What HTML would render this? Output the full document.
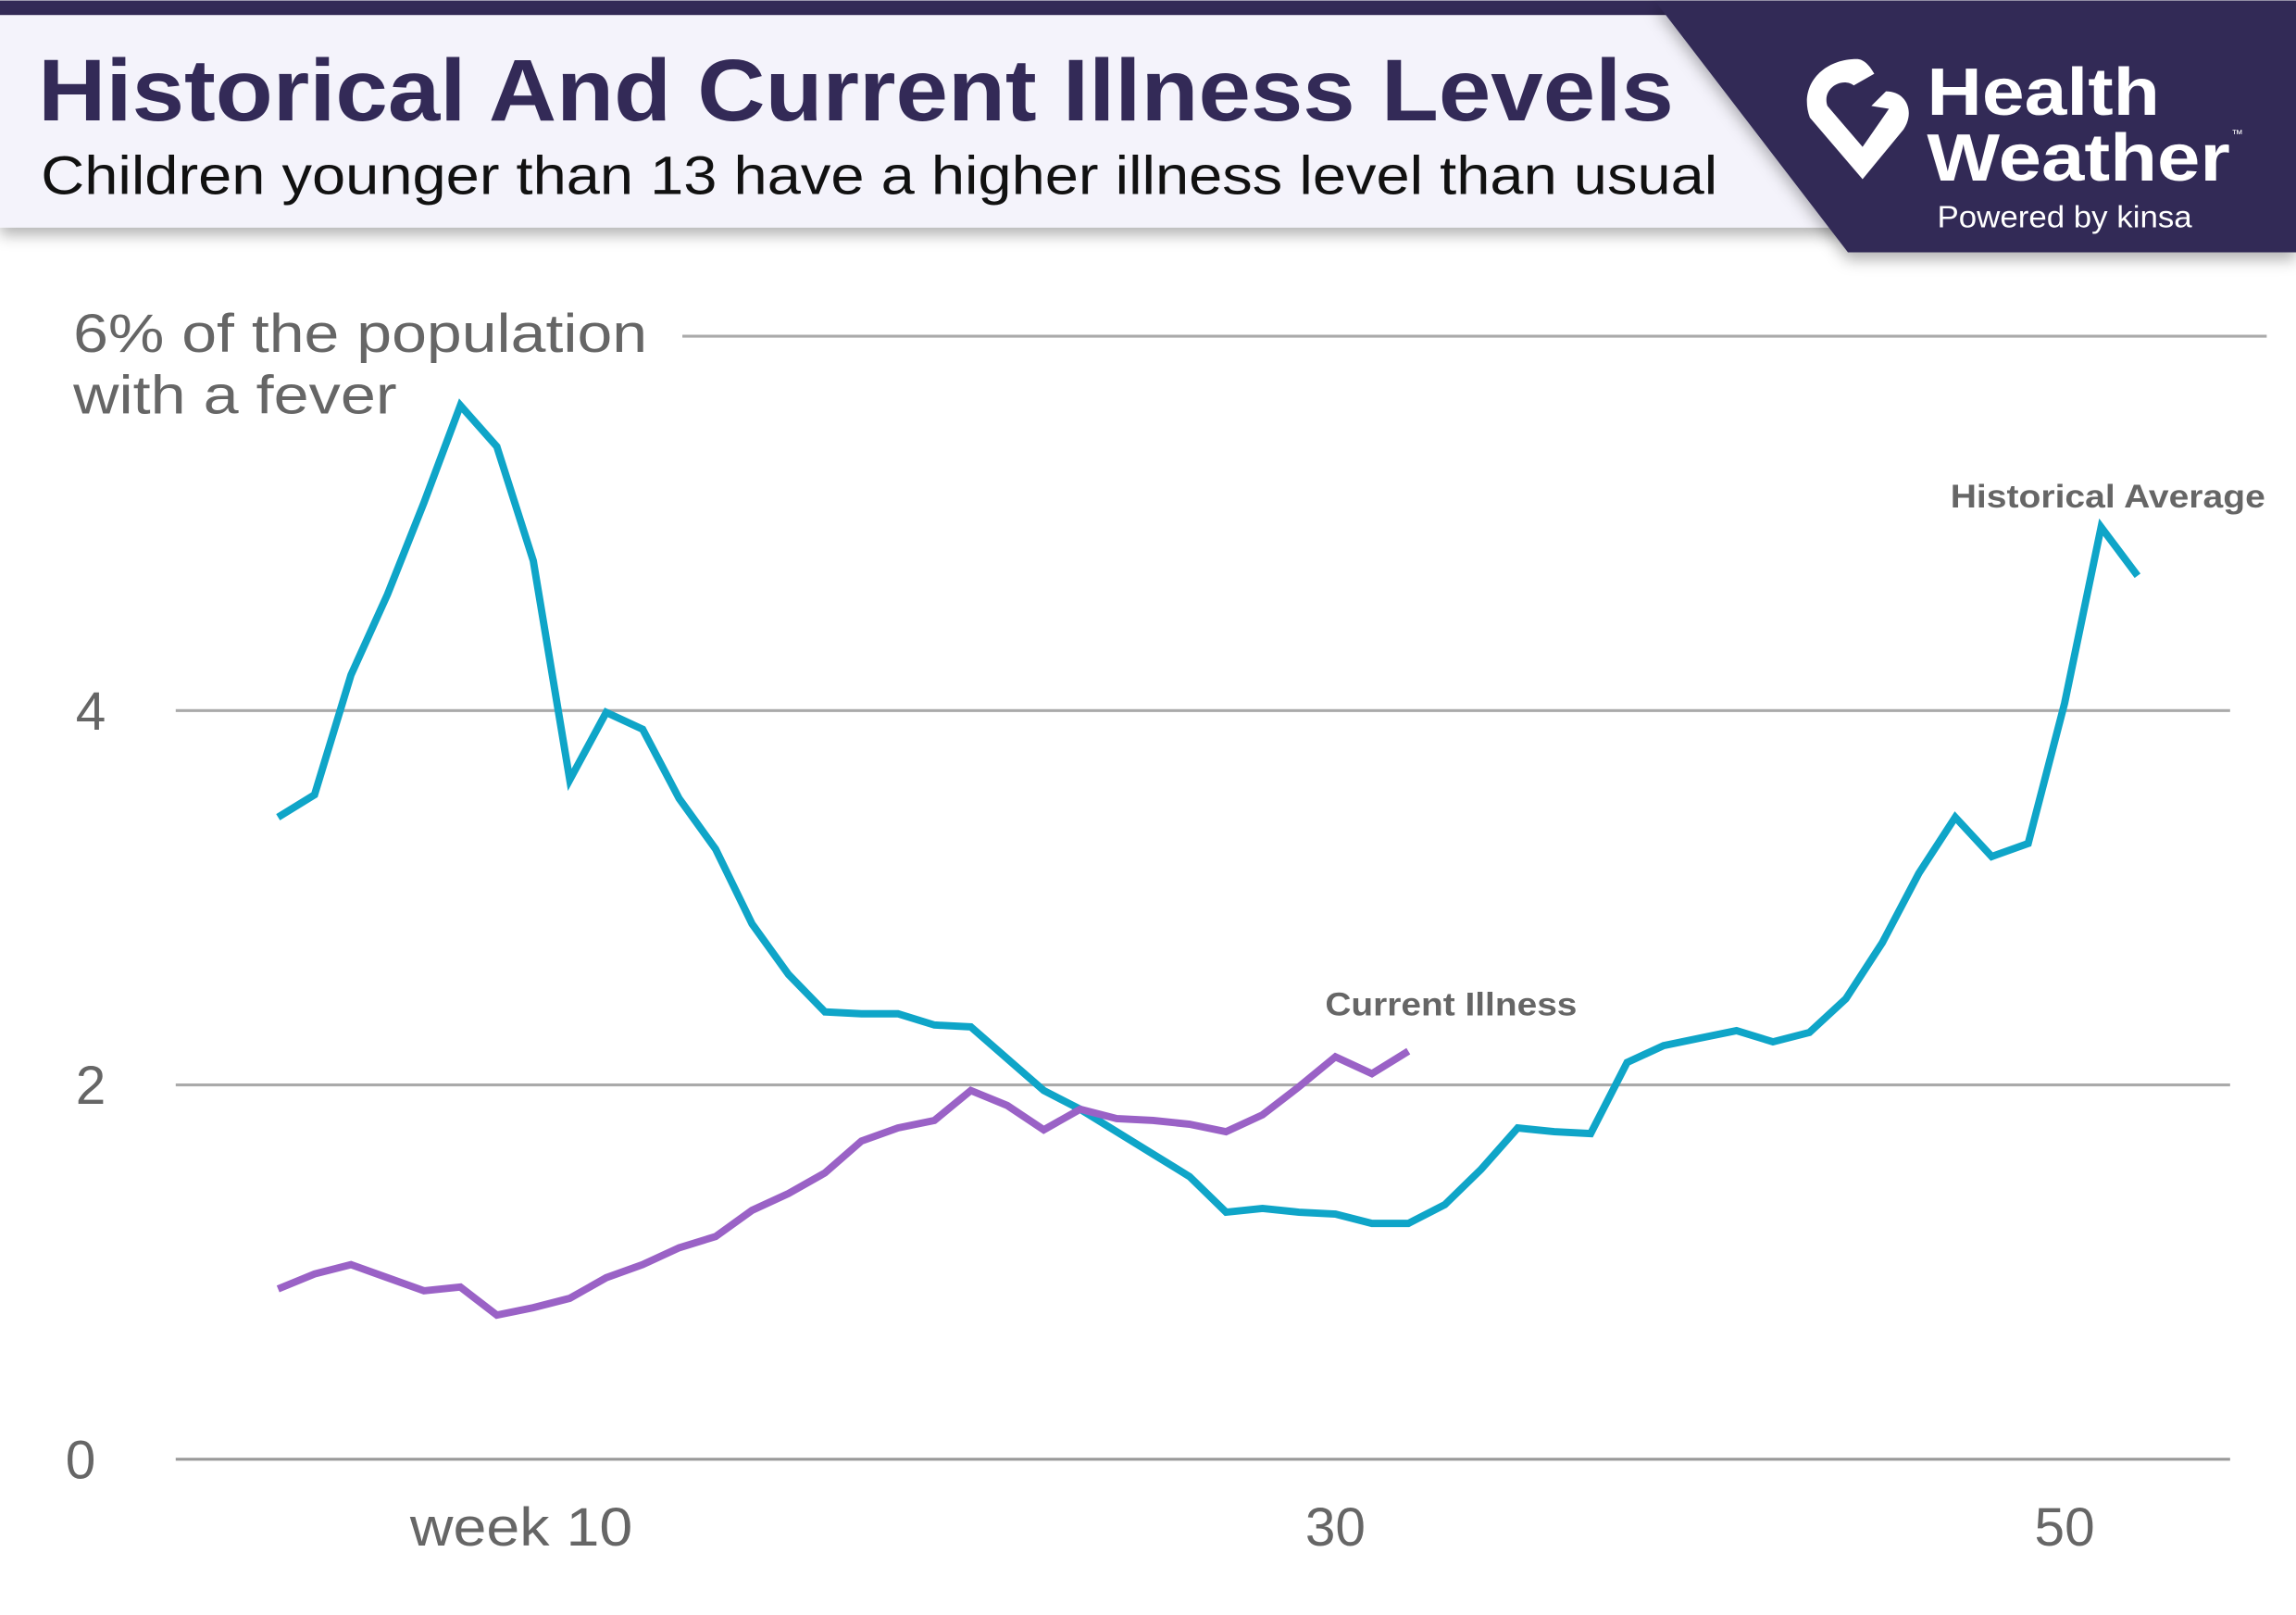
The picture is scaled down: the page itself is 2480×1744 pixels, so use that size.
<!DOCTYPE html>
<html><head><meta charset="utf-8"><style>
html,body{margin:0;padding:0;background:#fff;}
svg{display:block;}
</style></head><body>
<svg id="chart" width="2480" height="1744" viewBox="0 0 1568 1102" xmlns="http://www.w3.org/2000/svg" font-family="'Liberation Sans', sans-serif">
<defs>
<filter id="sh" x="-5%" y="-20%" width="110%" height="150%"><feDropShadow dx="0" dy="5" stdDeviation="5" flood-color="#000" flood-opacity="0.3"/></filter>
</defs>
<rect x="0" y="0" width="1568" height="1102" fill="#fff"/>
<g>
<rect x="0" y="0" width="1568" height="10" fill="#332a57"/>
<rect x="0" y="10" width="1260" height="145" fill="#f4f3fb" filter="url(#sh)"/>
<polygon points="1130,0 1568,0 1568,172 1262,172" fill="#332a57" filter="url(#sh)"/>
<text x="26" y="82" font-size="60" font-weight="bold" fill="#332a57" textLength="1117" lengthAdjust="spacingAndGlyphs">Historical And Current Illness Levels</text>
<text x="28" y="132" font-size="37" fill="#111" textLength="1145" lengthAdjust="spacingAndGlyphs">Children younger than 13 have a higher illness level than usual</text>
<path d="M1268,40 C1245,40 1228,58 1236,80 L1272,122 L1300,88 C1308,76 1302,62 1288,62 L1278,72 L1290,74 L1272,100 L1248,72 C1244,60 1258,52 1266,58 L1280,50 C1276,43 1272,40 1268,40 Z" fill="#fff"/>
<text x="1316" y="78" font-size="46" font-weight="bold" fill="#fff" textLength="159" lengthAdjust="spacingAndGlyphs">Health</text>
<text x="1316" y="123" font-size="46" font-weight="bold" fill="#fff" textLength="207" lengthAdjust="spacingAndGlyphs">Weather</text>
<text x="1524" y="94" font-size="8" fill="#fff">™</text>
<text x="1323" y="155" font-size="21" fill="#fff" textLength="174" lengthAdjust="spacingAndGlyphs">Powered by kinsa</text>
</g>
<g id="plot"></g>
</svg>
<script>
const weeks = [1,2,3,4,5,6,7,8,9,10,11,12,13,14,15,16,17,18,19,20,21,22,23,24,25,26,27,28,29,30,31,32,33,34,35,36,37,38,39,40,41,42,43,44,45,46,47,48,49,50,51,52];
const historical = [3.43,3.55,4.19,4.62,5.11,5.63,5.41,4.80,3.63,3.99,3.90,3.53,3.26,2.86,2.59,2.39,2.38,2.38,2.32,2.31,2.14,1.97,1.87,1.75,1.63,1.51,1.32,1.34,1.32,1.31,1.26,1.26,1.36,1.55,1.77,1.75,1.74,2.12,2.21,2.25,2.29,2.23,2.28,2.46,2.76,3.13,3.43,3.22,3.29,4.04,4.98,4.72];
const currentWeeks = [1,2,3,4,5,6,7,8,9,10,11,12,13,14,15,16,17,18,19,20,21,22,23,24,25,26,27,28,29,30,31,32];
const current = [0.91,0.99,1.04,0.97,0.90,0.92,0.77,0.81,0.86,0.97,1.04,1.13,1.19,1.33,1.42,1.53,1.70,1.77,1.81,1.97,1.89,1.76,1.87,1.82,1.81,1.79,1.75,1.84,1.99,2.15,2.06,2.18];
const yTicks = [0,2,4,6];
const xTicks = [10,30,50];
const xTickLabels = ["week 10","30","50"];

const NS="http://www.w3.org/2000/svg";
const g=document.getElementById('plot');
const xS=w=>912+(w-30)*24.9;
const yS=v=>996-v*127.8;
function mk(t,a){const e=document.createElementNS(NS,t);for(const k in a)e.setAttribute(k,a[k]);g.appendChild(e);return e;}

yTicks.forEach(v=>{
  const x1 = v===6?466:120, x2 = v===6?1548:1523;
  const l=mk('line',{x1:x1,x2:x2,y1:yS(v),y2:yS(v),stroke:v===0?'#999':'#aaa','stroke-width':2});
  
  
  if(v!==6){
    const t=mk('text',{x:v===0?55:62,y:yS(v)+13,'font-size':37,fill:'#666','text-anchor':'middle'});
    t.textContent=String(v);
    
    
  }
});
const t6=mk('text',{x:50,y:240,'font-size':37,fill:'#666',textLength:392,lengthAdjust:'spacingAndGlyphs'});
t6.textContent='6% of the population';


const t6b=mk('text',{x:50,y:282,'font-size':37,fill:'#666',textLength:221,lengthAdjust:'spacingAndGlyphs'});
t6b.textContent='with a fever';



xTicks.forEach((w,i)=>{
  const lbl=xTickLabels[i];
  const a={x:i===0?280:xS(w),y:1055,'font-size':37,fill:'#666','text-anchor':i===0?'start':'middle'};
  if(i===0){a.textLength=152;a.lengthAdjust='spacingAndGlyphs';}
  const t=mk('text',a);
  t.textContent=lbl;
  
  
});

function line(ws,vals,color,name){
  const p=mk('polyline',{points:ws.map((w,i)=>xS(w)+','+yS(vals[i])).join(' '),fill:'none',stroke:color,'stroke-width':5,'stroke-linejoin':'miter'});
  
  
}
line(weeks,historical,'#0fa5c8','historical-average-line');
line(currentWeeks,current,'#9a62c6','current-illness-line');

const l1=mk('text',{x:1332,y:346,'font-size':22,'font-weight':'bold',fill:'#666',textLength:215,lengthAdjust:'spacingAndGlyphs'});
l1.textContent='Historical Average';


const l2=mk('text',{x:905,y:693,'font-size':22,'font-weight':'bold',fill:'#666',textLength:172,lengthAdjust:'spacingAndGlyphs'});
l2.textContent='Current Illness';


</script>
</body></html>
